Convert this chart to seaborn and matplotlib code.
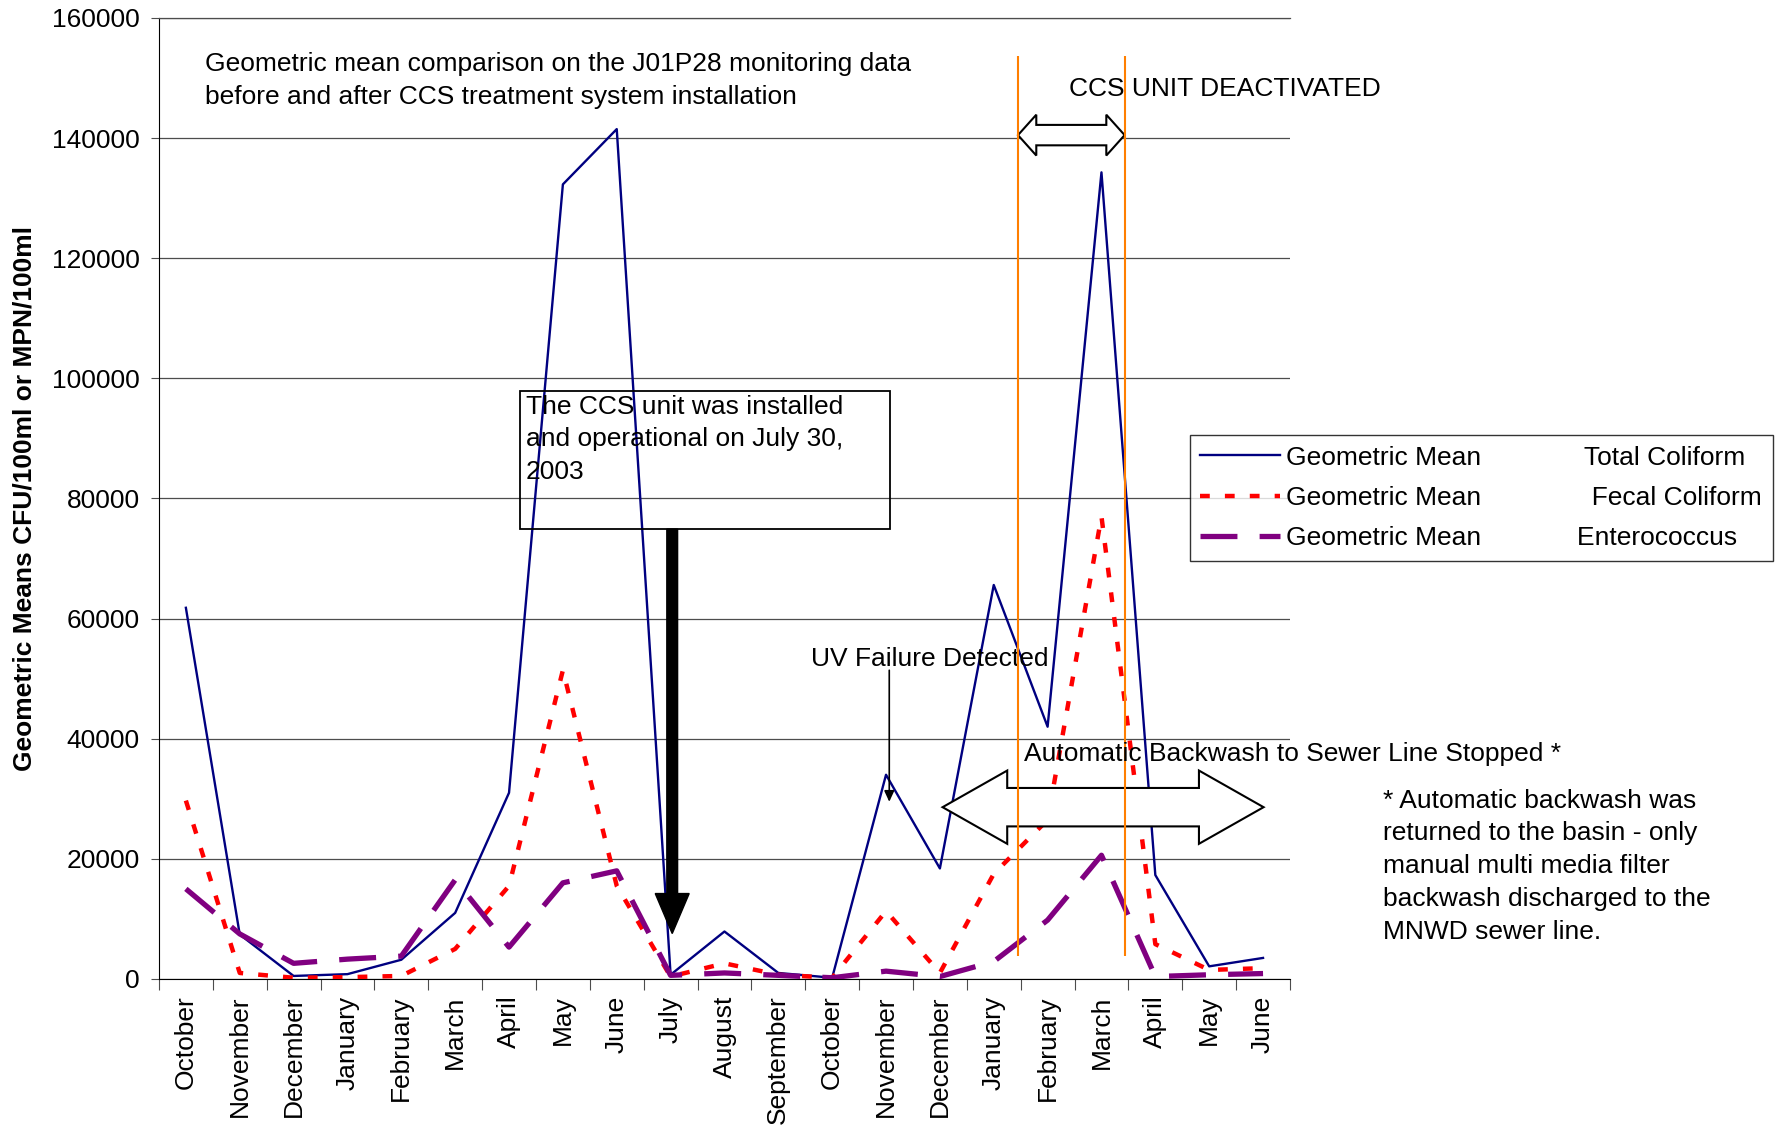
import matplotlib
matplotlib.use("Agg")
import matplotlib.pyplot as plt
import numpy as np
import pandas as pd
import seaborn as sns
from matplotlib.patches import FancyArrow, Polygon, Rectangle

MONTHS = [
    "October", "November", "December", "January", "February", "March", "April",
    "May", "June", "July", "August", "September", "October", "November",
    "December", "January", "February", "March", "April", "May", "June",
]
TOTAL_COLIFORM = [61800, 7400, 500, 800, 3200, 11000, 31000, 132300, 141500, 700,
                  7900, 1000, 200, 34000, 18400, 65600, 42000, 134300, 17300, 2100, 3500]
FECAL_COLIFORM = [29700, 1000, 200, 300, 500, 5000, 15500, 51400, 15500, 400,
                  2600, 700, 200, 11300, 1000, 17500, 26500, 77000, 5800, 1500, 1800]
ENTEROCOCCUS = [15000, 7500, 2600, 3300, 3800, 16500, 5300, 16000, 18000, 600,
                1000, 600, 200, 1300, 400, 2900, 9800, 20600, 400, 700, 900]
SERIES_NAMES = ["Total Coliform", "Fecal Coliform", "Enterococcus"]
LEGEND_GAPS = [14, 15, 13]

plt.rcParams["font.family"] = ["Liberation Sans", "DejaVu Sans"]
FS = 19
LS = 1.46


def hollow_double_arrow(ax, x0, x1, yc, shaft_half, head_half, head_len):
    pts = [
        (x0, yc), (x0 + head_len, yc + head_half), (x0 + head_len, yc + shaft_half),
        (x1 - head_len, yc + shaft_half), (x1 - head_len, yc + head_half), (x1, yc),
        (x1 - head_len, yc - head_half), (x1 - head_len, yc - shaft_half),
        (x0 + head_len, yc - shaft_half), (x0 + head_len, yc - head_half),
    ]
    ax.add_patch(Polygon(pts, closed=True, facecolor="white", edgecolor="black",
                         lw=1.5, zorder=4))


df = pd.DataFrame({
    "idx": np.arange(len(MONTHS)),
    "month": MONTHS,
    "Total Coliform": TOTAL_COLIFORM,
    "Fecal Coliform": FECAL_COLIFORM,
    "Enterococcus": ENTEROCOCCUS,
})

fig = plt.figure(figsize=(17.8, 11.32), dpi=100)
ax = fig.add_axes([0.0893, 0.1352, 0.6354, 0.8489])

styles = {
    "Total Coliform": dict(color="#000080", lw=1.7, dashes=None),
    "Fecal Coliform": dict(color="#FF0000", lw=3.2, dashes=(2.2, 3.4)),
    "Enterococcus": dict(color="#800080", lw=3.8, dashes=(7.0, 4.2)),
}
handles = []
for name in SERIES_NAMES:
    st = styles[name]
    sns.lineplot(data=df, x="idx", y=name, ax=ax, color=st["color"], lw=st["lw"],
                 sort=False, zorder=3)
    line = ax.lines[-1]
    if st["dashes"] is not None:
        line.set_dashes(st["dashes"])
    handles.append(line)

ax.set_xlim(-0.5, len(MONTHS) - 0.5)
ax.set_ylim(0, 160000)
ax.set_yticks(np.arange(0, 160001, 20000))
ax.set_yticklabels([str(v) for v in range(0, 160001, 20000)], fontsize=FS)
ax.yaxis.grid(True, color="0.3", lw=0.9)
ax.set_axisbelow(True)

ax.set_xticks(np.arange(-0.5, len(MONTHS), 1))
ax.set_xticklabels([])
ax.set_xticks(np.arange(len(MONTHS)), minor=True)
ax.set_xticklabels(MONTHS, minor=True, rotation=90, fontsize=FS)
ax.tick_params(axis="x", which="minor", length=0, pad=12)
ax.tick_params(axis="x", which="major", length=8, color="0.3")
ax.tick_params(axis="y", length=6, color="0.3", pad=8)

ax.spines["right"].set_visible(False)
ax.spines["top"].set_color("0.3")
ax.spines["top"].set_linewidth(0.9)

ax.set_xlabel("")
ax.set_ylabel("Geometric Means CFU/100ml or MPN/100ml", fontsize=FS, fontweight="bold")
ax.yaxis.set_label_coords(-0.108, 0.5)

# annotations
ax.text(0.36, 154300, "Geometric mean comparison on the J01P28 monitoring data\n"
        "before and after CCS treatment system installation",
        fontsize=FS, va="top", ha="left", linespacing=LS)

ax.add_patch(Rectangle((6.2, 74900), 13.08 - 6.2, 97950 - 74900, fill=False,
                       edgecolor="black", lw=1.3, zorder=4))
ax.text(6.31, 97300, "The CCS unit was installed\nand operational on July 30,\n2003",
        fontsize=FS, va="top", ha="left", linespacing=LS, zorder=5)
ax.add_patch(FancyArrow(9.03, 74900, 0, 7560 - 74900, width=0.2, head_width=0.63,
                        head_length=6660, length_includes_head=True,
                        color="black", zorder=5))

ax.text(11.6, 53300, "UV Failure Detected", fontsize=FS, va="center", ha="left", zorder=5)
ax.annotate("", xy=(13.06, 29500), xytext=(13.06, 51400),
            arrowprops=dict(arrowstyle="-|>,head_length=0.65,head_width=0.3",
                            color="black", lw=1.2, shrinkA=0, shrinkB=0),
            zorder=5)

hollow_double_arrow(ax, 15.45, 17.43, 140500, 1700, 3400, 0.34)
hollow_double_arrow(ax, 14.05, 20.01, 28600, 3200, 6100, 1.2)
ax.vlines([15.45, 17.43], 3800, 153600, color="#FF7F00", lw=1.5, zorder=6)

ax.text(16.39, 148100, "CCS UNIT DEACTIVATED", fontsize=FS, va="center", ha="left", zorder=7)
ax.text(15.57, 37400, "Automatic Backwash to Sewer Line Stopped *", fontsize=FS,
        va="center", ha="left", zorder=7)
ax.text(22.23, 31700, "* Automatic backwash was\nreturned to the basin - only\n"
        "manual multi media filter\nbackwash discharged to the\nMNWD sewer line.",
        fontsize=FS, va="top", ha="left", linespacing=LS)

labels = [f"Geometric Mean{' ' * g}{n}" for n, g in zip(SERIES_NAMES, LEGEND_GAPS)]
leg = fig.legend(handles=handles, labels=labels, loc="upper left",
                 bbox_to_anchor=(0.6685, 0.6157), fontsize=FS, frameon=True,
                 fancybox=False, shadow=False, borderaxespad=0, handlelength=3.0,
                 handletextpad=0.25, labelspacing=0.62, borderpad=0.4)
leg.get_frame().set_edgecolor("black")
leg.get_frame().set_linewidth(1.0)

fig.savefig("out.png", dpi=100)
